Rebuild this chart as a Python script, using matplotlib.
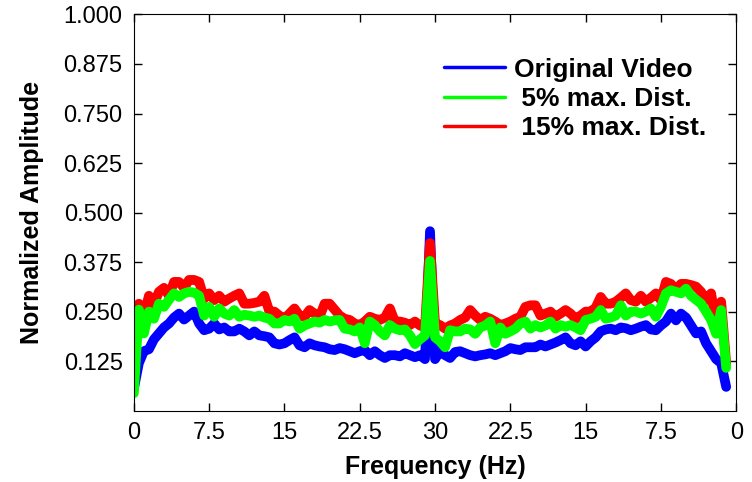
import numpy as np
import matplotlib
matplotlib.use("Agg")
import matplotlib.pyplot as plt

plt.rcParams['font.family'] = ['Liberation Sans', 'DejaVu Sans']

# frequency bins (Hz), 0.5 Hz apart, shown mirrored around 30 Hz
freq = np.arange(0, 59.5, 0.5)

# Original Video
orig = [
    0.055, 0.12, 0.15, 0.155, 0.18, 0.195, 0.21, 0.22, 0.235, 0.245,
    0.23, 0.24, 0.25, 0.22, 0.203, 0.207, 0.22, 0.205, 0.21, 0.20,
    0.20, 0.207, 0.20, 0.19, 0.20, 0.19, 0.188, 0.185, 0.17, 0.167,
    0.17, 0.178, 0.185, 0.165, 0.16, 0.17, 0.165, 0.162, 0.16, 0.155,
    0.153, 0.158, 0.155, 0.15, 0.145, 0.15, 0.153, 0.14, 0.15, 0.14,
    0.133, 0.14, 0.14, 0.137, 0.145, 0.14, 0.135, 0.14, 0.13, 0.453,
    0.13, 0.15, 0.14, 0.133, 0.148, 0.15, 0.145, 0.14, 0.137, 0.14,
    0.142, 0.145, 0.14, 0.145, 0.15, 0.158, 0.155, 0.153, 0.16, 0.16,
    0.16, 0.167, 0.162, 0.167, 0.172, 0.178, 0.185, 0.17, 0.165, 0.175,
    0.162, 0.175, 0.185, 0.20, 0.205, 0.207, 0.203, 0.21, 0.208, 0.203,
    0.207, 0.212, 0.216, 0.205, 0.203, 0.215, 0.225, 0.245, 0.228, 0.245,
    0.235, 0.215, 0.195, 0.20, 0.17, 0.15, 0.13, 0.12, 0.06,
]

# 5% max. Dist.
dist5 = [
    0.044, 0.255, 0.195, 0.25, 0.232, 0.27, 0.262, 0.28, 0.296, 0.287,
    0.296, 0.30, 0.298, 0.29, 0.24, 0.262, 0.237, 0.258, 0.245, 0.24,
    0.254, 0.237, 0.242, 0.24, 0.237, 0.24, 0.235, 0.232, 0.22, 0.22,
    0.229, 0.225, 0.232, 0.207, 0.215, 0.22, 0.225, 0.222, 0.229, 0.225,
    0.228, 0.229, 0.207, 0.205, 0.20, 0.21, 0.17, 0.225, 0.216, 0.20,
    0.19, 0.216, 0.207, 0.203, 0.205, 0.19, 0.168, 0.18, 0.19, 0.378,
    0.185, 0.175, 0.16, 0.203, 0.20, 0.20, 0.207, 0.205, 0.194, 0.21,
    0.215, 0.225, 0.17, 0.21, 0.194, 0.20, 0.207, 0.22, 0.225, 0.207,
    0.216, 0.21, 0.215, 0.225, 0.207, 0.216, 0.212, 0.216, 0.21, 0.203,
    0.229, 0.232, 0.237, 0.254, 0.232, 0.235, 0.24, 0.266, 0.24, 0.25,
    0.25, 0.245, 0.25, 0.258, 0.237, 0.262, 0.296, 0.304, 0.30, 0.296,
    0.308, 0.29, 0.28, 0.27, 0.25, 0.229, 0.194, 0.254, 0.108,
]

# 15% max. Dist.
dist15 = [
    0.10, 0.27, 0.24, 0.29, 0.27, 0.30, 0.31, 0.29, 0.325, 0.325,
    0.31, 0.33, 0.33, 0.325, 0.283, 0.296, 0.279, 0.29, 0.275, 0.283,
    0.29, 0.296, 0.27, 0.27, 0.272, 0.275, 0.29, 0.25, 0.25, 0.24,
    0.232, 0.245, 0.258, 0.24, 0.237, 0.254, 0.245, 0.237, 0.27, 0.27,
    0.255, 0.24, 0.232, 0.229, 0.22, 0.216, 0.225, 0.237, 0.232, 0.229,
    0.235, 0.258, 0.225, 0.225, 0.222, 0.216, 0.225, 0.215, 0.21, 0.423,
    0.22, 0.216, 0.207, 0.215, 0.22, 0.229, 0.235, 0.254, 0.24, 0.229,
    0.237, 0.232, 0.225, 0.216, 0.22, 0.225, 0.232, 0.237, 0.262, 0.266,
    0.266, 0.24, 0.245, 0.25, 0.237, 0.245, 0.254, 0.245, 0.232, 0.24,
    0.25, 0.25, 0.26, 0.287, 0.27, 0.27, 0.275, 0.285, 0.296, 0.279,
    0.275, 0.29, 0.275, 0.285, 0.296, 0.279, 0.325, 0.32, 0.305, 0.32,
    0.32, 0.317, 0.313, 0.30, 0.279, 0.296, 0.22, 0.275, 0.12,
]

xticks = [0, 7.5, 15, 22.5, 30, 37.5, 45, 52.5, 60]
xticklabels = ['0', '7.5', '15', '22.5', '30', '22.5', '15', '7.5', '0']
yticks = [0.125, 0.25, 0.375, 0.5, 0.625, 0.75, 0.875, 1.0]
yticklabels = ['0.125', '0.250', '0.375', '0.500', '0.625', '0.750', '0.875', '1.000']

fig = plt.figure(figsize=(7.52, 4.82), dpi=100)
ax = fig.add_axes([0.178, 0.148, 0.801, 0.822])

style = dict(linewidth=7, solid_capstyle='round', solid_joinstyle='round')
l1, = ax.plot(freq, orig, color='#0000ff', **style)
l3, = ax.plot(freq, dist15, color='#ff0000', **style)
l2, = ax.plot(freq, dist5, color='#00ff00', **style)

ax.set_xlim(0, 60)
ax.set_ylim(0, 1)
ax.set_xticks(xticks)
ax.set_xticklabels(xticklabels)
ax.set_yticks(yticks)
ax.set_yticklabels(yticklabels)
ax.tick_params(direction='in', length=6, width=1, top=True, right=True,
               labelsize=17, pad=8)

ax.set_xlabel('Frequency (Hz)', fontsize=18, fontweight='bold', labelpad=8)
ax.set_ylabel('Normalized Amplitude', fontsize=18, fontweight='bold', labelpad=14)

leg = ax.legend([l1, l2, l3], ['Original Video', ' 5% max. Dist.', ' 15% max. Dist.'],
                loc='upper right', bbox_to_anchor=(0.968, 0.918), frameon=False,
                prop={'weight': 'bold', 'size': 19}, handlelength=2.3,
                handletextpad=0.35, labelspacing=0.2, borderaxespad=0)
for h in leg.get_lines():
    h.set_linewidth(2.5)

fig.savefig('out.png', dpi=100)
